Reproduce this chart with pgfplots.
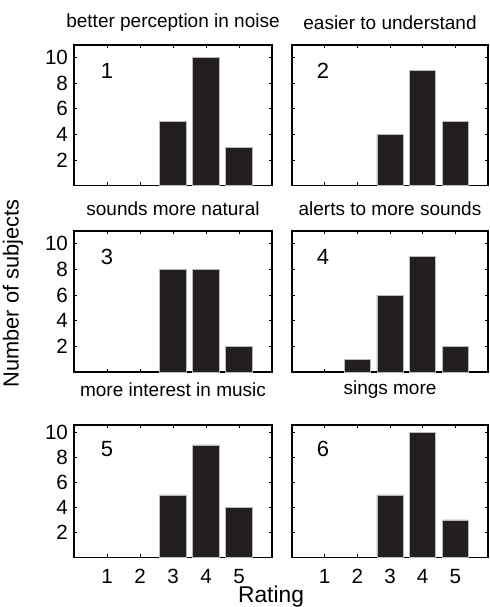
\documentclass[border=0pt]{standalone}
\usepackage{pgfplots}
\pgfplotsset{compat=1.18}
\usepackage{fontspec}
\setmainfont{Liberation Sans}
\definecolor{barcol}{HTML}{231F20}

\pgfplotsset{
  panel/.style={
    scale only axis,
    anchor=south west,
    xmin=0, xmax=6, ymin=0, ymax=11,
    xtick={1,2,3,4,5}, ytick={2,4,6,8,10},
    tick pos=both, tick align=inside,
    major tick length=1.6pt,
    axis line style={line width=0.6pt},
    tick style={line width=0.4pt, black},
    /pgf/number format/assume math mode=true,
    tick label style={font=\fontsize{10.3}{11}\selectfont},
    yticklabel style={xshift=0.5pt},
    title style={font=\fontsize{9.5}{11}\selectfont, anchor=center, yshift=5pt},
    xticklabels={}, yticklabels={},
  },
  lefty/.style={yticklabels={2,4,6,8,10}, yticklabel pos=left},
  bottomx/.style={xticklabels={1,2,3,4,5}, xticklabel pos=left, xticklabel style={yshift=-2.3pt}},
  lastrow/.style={ymax=10.6, title style={yshift=6.5pt}},
  bars/.style={ybar, bar width=0.8, bar shift=0pt, fill=barcol, draw=gray!55, line width=0.4pt},
}
\tikzset{num/.style={font=\fontsize{11}{12}\selectfont}}

\begin{document}
\begin{tikzpicture}
\useasboundingbox (0,0) rectangle (244.5pt,303.5pt);

% row 1
\begin{axis}[panel, lefty, at={(37pt,210.75pt)}, width=99pt, height=70.25pt,
  title={better perception in noise}]
  \addplot[bars] coordinates {(3,5) (4,10) (5,3)};
  \node[num] at (axis cs:1,9) {1};
\end{axis}
\begin{axis}[panel, at={(146pt,210.75pt)}, width=98pt, height=70.25pt,
  title={easier to understand}]
  \addplot[bars] coordinates {(3,4) (4,9) (5,5)};
  \node[num] at (axis cs:0.95,9) {2};
\end{axis}

% row 2
\begin{axis}[panel, lefty, at={(37pt,117.5pt)}, width=99pt, height=70.5pt,
  title={sounds more natural}]
  \addplot[bars] coordinates {(3,8) (4,8) (5,2)};
  \node[num] at (axis cs:1,9) {3};
\end{axis}
\begin{axis}[panel, at={(146pt,117.5pt)}, width=98pt, height=70.5pt,
  title={alerts to more sounds}]
  \addplot[bars] coordinates {(2,1) (3,6) (4,9) (5,2)};
  \node[num] at (axis cs:0.95,9) {4};
\end{axis}

% row 3 (a bit shorter, title sits higher)
\begin{axis}[panel, lefty, bottomx, lastrow, at={(37pt,24.75pt)}, width=99pt, height=66.25pt,
  title={more interest in music}]
  \addplot[bars] coordinates {(3,5) (4,9) (5,4)};
  \node[num] at (axis cs:1,8.7) {5};
\end{axis}
\begin{axis}[panel, bottomx, lastrow, at={(146pt,24.75pt)}, width=98pt, height=66.25pt,
  title={sings more}]
  \addplot[bars] coordinates {(3,5) (4,10) (5,3)};
  \node[num] at (axis cs:0.95,8.7) {6};
\end{axis}

\node[font=\fontsize{10.9}{12}\selectfont, rotate=90] at (6.5pt,156.75pt) {Number of subjects};
\node[font=\fontsize{11.4}{12}\selectfont] at (135.5pt,5pt) {Rating};
\end{tikzpicture}
\end{document}
